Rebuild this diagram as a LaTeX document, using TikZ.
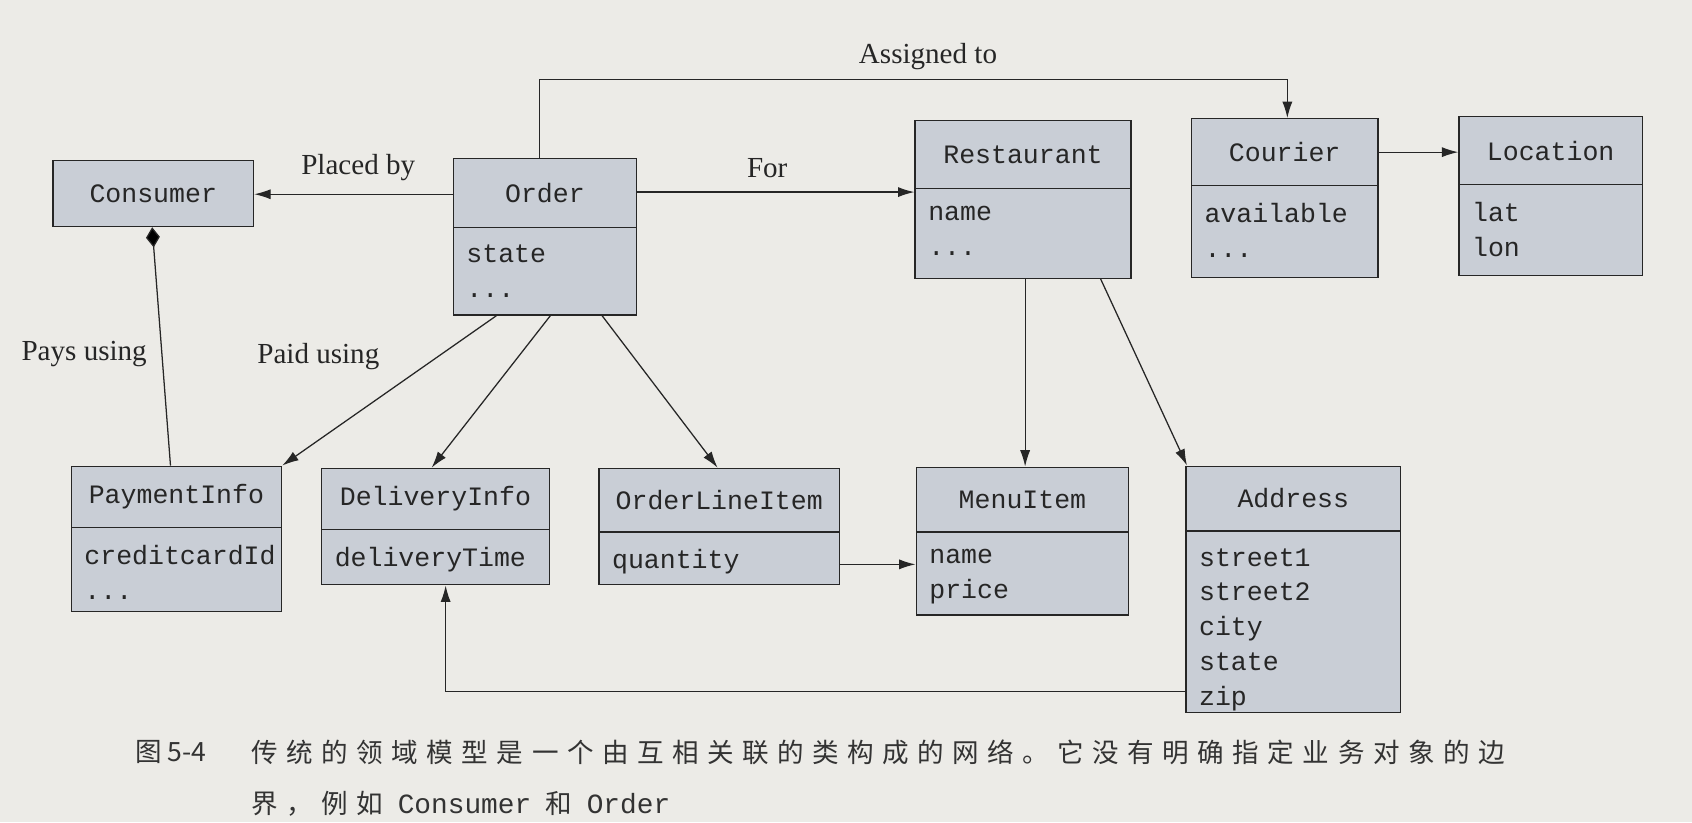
\documentclass[tikz,border=0pt]{standalone}
\usepackage{fontspec}
\setmainfont{Liberation Serif}
\setmonofont{Liberation Mono}
\newfontfamily\cjk[LetterSpace=32]{Noto Sans CJK SC}
\newfontfamily\cjkplain{Noto Sans CJK SC}
\usetikzlibrary{fit,calc,arrows.meta}
\begin{document}
\begin{tikzpicture}[x=0.03cm,y=-0.03cm,
  box/.style={draw=black!85,line width=1pt,fill=boxc,inner sep=0pt},
  mono/.style={font=\fontsize{21}{27.5}\selectfont\ttfamily,text=black!85,inner sep=0pt},
  lab/.style={font=\fontsize{23}{26}\selectfont,text=black!85,inner sep=0pt},
  con/.style={draw=black!85,line width=1pt},
  arr/.style={con,-{Latex[length=13pt,width=8pt]}}]
\definecolor{boxc}{HTML}{C9CED6}
\definecolor{paper}{HTML}{ECEBE7}
\fill[paper] (0,0) rectangle (1568,762);
\useasboundingbox (0,0) rectangle (1568,762);
\newcommand\cls[8]{%
 \node[box, fit={(#2,#3)(#4,#5)}] (#1) {};
 \draw[line width=1pt,black!85] (#2,#6) -- (#4,#6);
 \node[mono] at ({(#2+#4)/2},{(#3+#6)/2}) {#7};
 \node[mono,anchor=north west,align=left] at (#2+12,#6+16) {#8};}
\cls{consumer}{49}{149}{235}{210}{210}{Consumer}{}
\cls{order}{420}{147}{590}{292}{211}{Order}{state\\...}
\cls{restaurant}{848}{112}{1048}{258}{175}{Restaurant}{name\\...}
\cls{courier}{1104}{110}{1277}{257}{172}{Courier}{available\\...}
\cls{location}{1352}{108}{1522}{255}{171}{Location}{lat\\lon}
\cls{payment}{66}{432}{261}{567}{489}{PaymentInfo}{creditcardId\\...}
\cls{delivery}{298}{434}{509}{542}{491}{DeliveryInfo}{deliveryTime}
\cls{oli}{555}{434}{778}{542}{493}{OrderLineItem}{quantity}
\cls{menu}{849}{433}{1046}{570}{493}{MenuItem}{name\\price}
\cls{address}{1099}{432}{1298}{660}{492}{Address}{street1\\street2\\city\\state\\zip}
% connectors
\draw[arr] (order.west |- 0,180) -- (consumer.east |- 0,180);
\node[lab] at (332,155) {Placed by};
\draw[arr] (order.east |- 0,178) -- (restaurant.west |- 0,178);
\node[lab] at (711,156) {For};
\draw[arr] (order.north -| 500,0) -- (500,74) -- (1193,74) -- (courier.north -| 1193,0);
\node[lab] at (860,52) {Assigned to};
\draw[arr] (courier.east |- 0,141) -- (location.west |- 0,141);
\draw[con,-{Diamond[length=16pt,width=11pt,fill=black]}] (payment.north -| 158,0) -- (consumer.south -| 141,0);
\node[lab] at (78,328) {Pays using};
\draw[arr] (order.south -| 460,0) -- (payment.north east);
\node[lab] at (295,330) {Paid using};
\draw[arr] (order.south -| 510,0) -- (delivery.north -| 400,0);
\draw[arr] (order.south -| 558,0) -- (oli.north -| 665,0);
\draw[arr] (restaurant.south -| 950,0) -- (menu.north -| 950,0);
\draw[arr] (restaurant.south -| 1020,0) -- (address.north -| 1100,0);
\draw[arr] (oli.east |- 0,523) -- (menu.west |- 0,523);
\draw[arr] (address.west |- 0,641) -- (413,641) -- (delivery.south -| 413,0);
% caption
\node[anchor=west,inner sep=0pt,text=black!80,font=\fontsize{21}{24}\selectfont\cjkplain] (cap1) at (125,697) {图 5-4};
\node[anchor=west,inner sep=0pt,text=black!80,font=\fontsize{21}{24}\selectfont\cjk] at (233,697) {传统的领域模型是一个由互相关联的类构成的网络。它没有明确指定业务对象的边};
\node[anchor=west,inner sep=0pt,text=black!80,font=\fontsize{21}{24}\selectfont\cjk] at (233,745) {界，例如 {\ttfamily\fontsize{22}{24}\selectfont Consumer} 和 {\ttfamily\fontsize{22}{24}\selectfont Order}};
\end{tikzpicture}
\end{document}
